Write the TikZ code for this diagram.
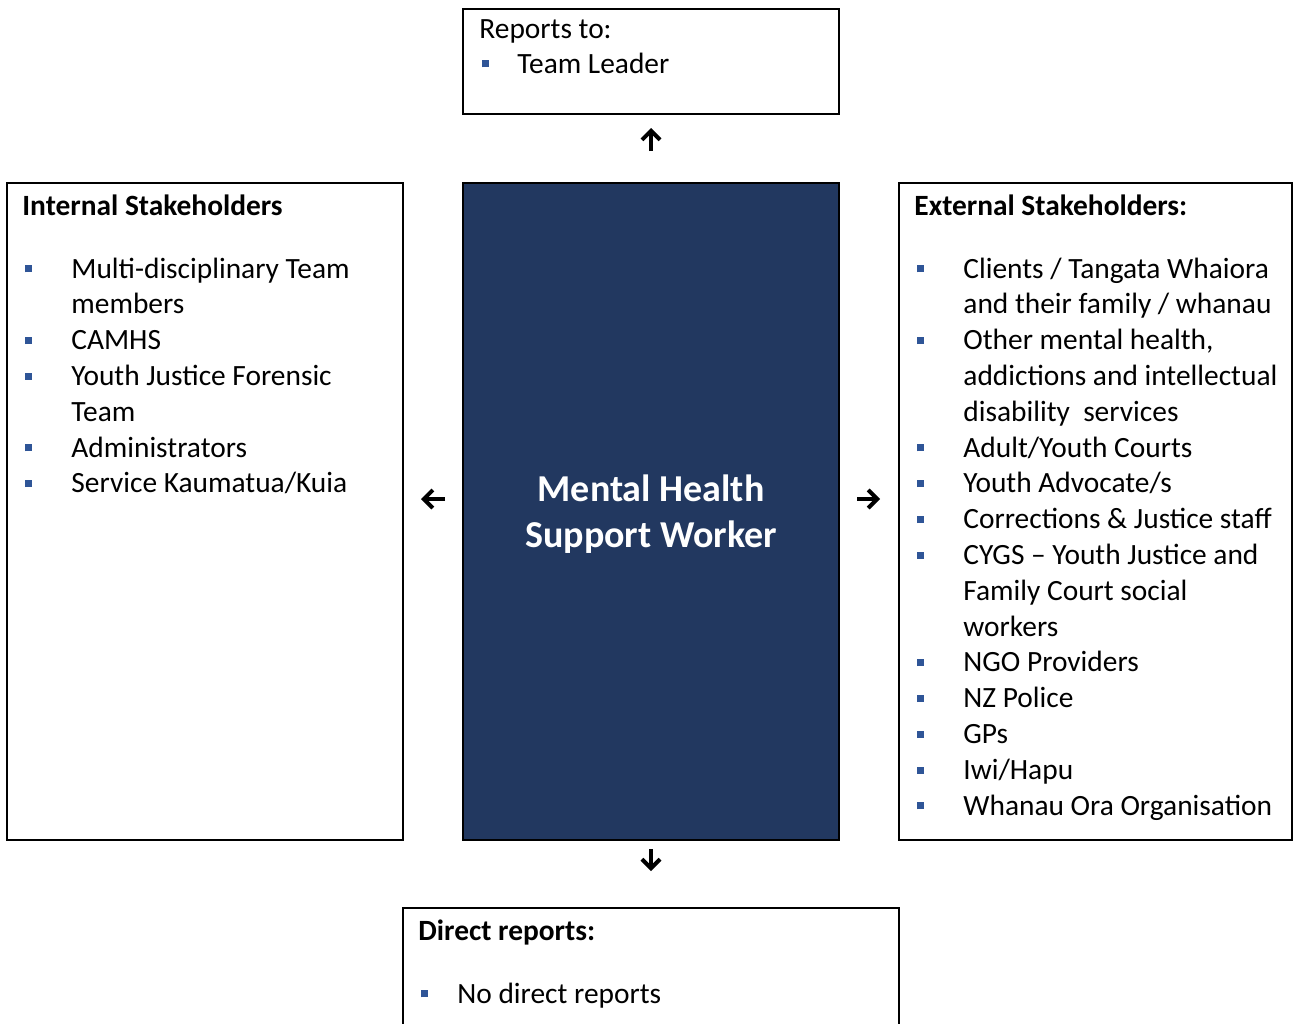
\documentclass[tikz,border=0pt]{standalone}
\usepackage{fontspec}
\setmainfont{Carlito}
\usetikzlibrary{arrows.meta}

\definecolor{roleblue}{RGB}{34,56,96}
\definecolor{bulletblue}{RGB}{47,85,151}
\newcommand{\bul}[1][24.5pt]{\makebox[#1][l]{\hspace{1.5pt}\raisebox{2.8pt}{\textcolor{bulletblue}{\rule{3.5pt}{3.5pt}}}}}

\tikzset{
  box/.style={draw, line width=1pt, rectangle, inner sep=0pt},
  list/.style={anchor=base west, inner sep=0pt, font=\fontsize{14.7}{17.9}\selectfont},
  pointer/.style={-{Straight Barb[length=4.5pt,width=9pt]}, line width=2pt}
}

\begin{document}
\begin{tikzpicture}[x=0.5pt, y=-0.5pt]
        \useasboundingbox (0, 0) rectangle (1293, 1023);
        % Boxes:
        \node[box, minimum width=188pt, minimum height=52.5pt] (reportsto) at (651, 61.5) {};
        \node[box, fill=roleblue, minimum width=188pt, minimum height=328.5pt] (role) at (651, 511.5) {};
        \node[text=white, align=center, font=\fontsize{19}{23}\selectfont\bfseries] (roletitle) at ([yshift=-1.5pt]role.center) {Mental Health\\Support Worker};
        \node[box, minimum width=198pt, minimum height=328.5pt] (internal) at (205, 511.5) {};
        \node[box, minimum width=196.5pt, minimum height=328.5pt] (external) at (1095.5, 511.5) {};
        \node[box, minimum width=248pt, minimum height=66pt] (directs) at (651, 974) {};
        % Lists:
        \node[list] (reportslist) at (479, 38) {\begin{tabular}[t]{@{}l@{}l@{}}
            \multicolumn{2}{@{}l@{}}{Reports to:}\\[-0.4pt]
            \bul[19pt] & Team Leader
        \end{tabular}};
        \node[list] (internallist) at (22, 215) {\begin{tabular}[t]{@{}l@{}l@{}}
            \multicolumn{2}{@{}l@{}}{\textbf{Internal Stakeholders}}\\[13.6pt]
            \bul & Multi-disciplinary Team\\
                 & members\\
            \bul & CAMHS\\
            \bul & Youth Justice Forensic\\
                 & Team\\
            \bul & Administrators\\
            \bul & Service Kaumatua/Kuia
        \end{tabular}};
        \node[list] (externallist) at (914, 215) {\begin{tabular}[t]{@{}l@{}l@{}}
            \multicolumn{2}{@{}l@{}}{\textbf{External Stakeholders:}}\\[13.6pt]
            \bul & Clients / Tangata Whaiora\\
                 & and their family / whanau\\
            \bul & Other mental health,\\
                 & addictions and intellectual\\
                 & disability\ \ services\\
            \bul & Adult/Youth Courts\\
            \bul & Youth Advocate/s\\
            \bul & Corrections \& Justice staff\\
            \bul & CYGS -- Youth Justice and\\
                 & Family Court social\\
                 & workers\\
            \bul & NGO Providers\\
            \bul & NZ Police\\
            \bul & GPs\\
            \bul & Iwi/Hapu\\
            \bul & Whanau Ora Organisation
        \end{tabular}};
        \node[list] (directslist) at (418, 940) {\begin{tabular}[t]{@{}l@{}l@{}}
            \multicolumn{2}{@{}l@{}}{\textbf{Direct reports:}}\\[13.6pt]
            \bul[19.5pt] & No direct reports
        \end{tabular}};
        % Arrows:
        \draw[pointer, shorten <=15.5pt, shorten >=6.5pt] (role.north) -- (reportsto.south);
        \draw[pointer, shorten <=8.5pt, shorten >=8.5pt] ([yshift=6.25pt]role.west) -- ([yshift=6.25pt]internal.east);
        \draw[pointer, shorten <=8.5pt, shorten >=9pt] ([yshift=6.25pt]role.east) -- ([yshift=6.25pt]external.west);
        \draw[pointer, shorten <=4pt, shorten >=18pt] (role.south) -- (directs.north);
\end{tikzpicture}
\end{document}
